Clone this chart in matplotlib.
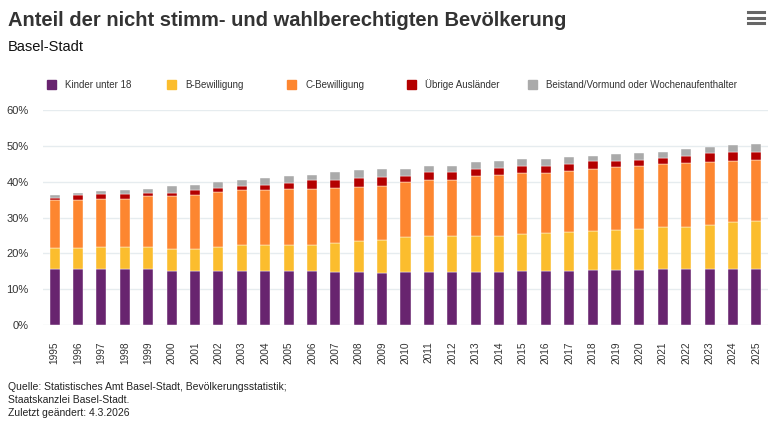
import matplotlib.pyplot as plt
from matplotlib.patches import Rectangle
from matplotlib.lines import Line2D

plt.rcParams['font.family'] = ['Liberation Sans', 'DejaVu Sans']

years = [str(y) for y in range(1995, 2026)]
kinder = [15.5, 15.5, 15.7, 15.7, 15.7, 15.2, 15.2, 15.2, 15.2, 15.0, 15.0, 15.0, 14.7, 14.7, 14.5, 14.7,
          14.7, 14.7, 14.7, 14.7, 15.0, 15.0, 15.0, 15.3, 15.4, 15.4, 15.7, 15.7, 15.7, 15.7, 15.7]
b_bew = [6.1, 6.1, 6.2, 6.2, 6.2, 6.1, 6.1, 6.7, 7.0, 7.4, 7.4, 7.4, 8.3, 8.8, 9.3, 9.8,
         10.0, 10.0, 10.2, 10.2, 10.5, 10.8, 11.0, 11.0, 11.2, 11.5, 11.6, 11.7, 12.3, 13.1, 13.4]
c_bew = [13.2, 13.2, 13.2, 13.4, 14.0, 14.6, 15.1, 15.3, 15.4, 15.2, 15.5, 15.5, 15.3, 15.1, 15.1, 15.5,
         15.9, 15.9, 16.6, 16.9, 17.0, 16.7, 17.1, 17.3, 17.6, 17.6, 17.5, 17.7, 17.4, 17.1, 17.0]
uebrige = [0.7, 1.4, 1.4, 1.2, 1.0, 1.0, 1.2, 1.1, 1.3, 1.6, 1.8, 2.5, 2.2, 2.5, 2.5, 1.7,
           2.0, 2.0, 2.0, 2.1, 2.0, 2.0, 1.9, 2.1, 1.7, 1.6, 1.7, 2.0, 2.5, 2.3, 2.3]
beistand = [0.9, 0.5, 0.8, 1.2, 1.0, 1.8, 1.4, 1.5, 1.7, 1.9, 2.0, 1.6, 2.1, 2.1, 2.2, 1.9,
            1.7, 1.7, 1.9, 1.8, 1.7, 1.9, 1.8, 1.6, 1.7, 1.8, 1.7, 1.9, 1.7, 1.9, 2.1]

series = [
    ('Kinder unter 18', kinder, '#68246f'),
    ('B-Bewilligung', b_bew, '#fbbd2e'),
    ('C-Bewilligung', c_bew, '#fd8630'),
    ('Übrige Ausländer', uebrige, '#b40000'),
    ('Beistand/Vormund oder Wochenaufenthalter', beistand, '#aaaaaa'),
]

fig = plt.figure(figsize=(7.72, 4.25), dpi=100)
ax = fig.add_axes([43 / 772, 1 - 325 / 425, 725 / 772, 215 / 425])

x = list(range(len(years)))
bottom = [0.0] * len(years)
for name, vals, col in series:
    ax.bar(x, vals, bottom=bottom, width=0.43, color=col, edgecolor='white', linewidth=0.3, zorder=3)
    bottom = [b + v for b, v in zip(bottom, vals)]

ax.set_xlim(-0.5, len(years) - 0.5)
ax.set_ylim(0, 60)
ax.set_yticks(range(0, 61, 10))
ax.set_yticklabels([f'{v}%' for v in range(0, 61, 10)], fontsize=8, color='#333333')
ax.set_xticks(x)
ax.set_xticklabels(years, rotation=90, fontsize=7.3, color='#333333')
ax.tick_params(axis='both', length=0)
ax.tick_params(axis='y', pad=10.5)
ax.tick_params(axis='x', pad=12)
ax.grid(axis='y', color='#e6ecef', linewidth=1, zorder=0)
for s in ax.spines.values():
    s.set_visible(False)

# title block
fig.text(8 / 772, 1 - 20 / 425, 'Anteil der nicht stimm- und wahlberechtigten Bevölkerung',
         fontsize=14.5, fontweight='bold', color='#333333', va='center', ha='left')
fig.text(8 / 772, 1 - 47 / 425, 'Basel-Stadt', fontsize=10.5, color='#111111', va='center', ha='left')

# menu icon
for yy in (12, 17.5, 23):
    fig.add_artist(Line2D([748 / 772, 764 / 772], [1 - yy / 425] * 2, color='#666666', linewidth=2.2))

# legend
leg_x = [47, 167, 287, 407, 528]
for (name, vals, col), lx in zip(series, leg_x):
    fig.add_artist(Rectangle((lx / 772, 1 - 89 / 425), 9 / 772, 9 / 425, color=col,
                             transform=fig.transFigure))
    fig.text((lx + 18) / 772, 1 - 84.7 / 425, name, fontsize=7, color='#333333', va='center', ha='left')

# source
foot = ['Quelle: Statistisches Amt Basel-Stadt, Bevölkerungsstatistik;',
        'Staatskanzlei Basel-Stadt.',
        'Zuletzt geändert: 4.3.2026']
for i, t in enumerate(foot):
    fig.text(8 / 772, 1 - (387 + i * 13) / 425, t, fontsize=7.5, color='#222222', va='center', ha='left')

fig.savefig('out.png', dpi=100)
